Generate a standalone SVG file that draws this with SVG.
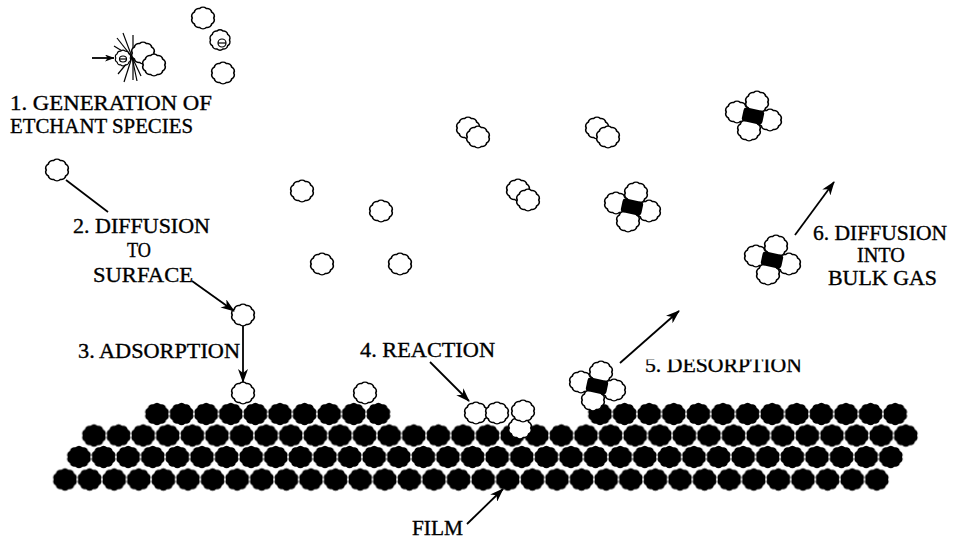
<svg xmlns="http://www.w3.org/2000/svg" width="954" height="541" viewBox="0 0 954 541">
  <style>
    .lbl{font-family:"Liberation Serif","DejaVu Serif","Times New Roman",serif;font-size:21px;fill:#000;stroke:#000;stroke-width:0.35}
    .big{font-size:22px}
    .open{fill:#fff;stroke:#000;stroke-width:1.6}
    .solid{fill:#000;stroke:none}
    .wire{stroke:#000;stroke-width:1.8;fill:none}
    .ray{stroke:#000;stroke-width:1.2;fill:none}
  </style>
  <defs>
    <!-- scalloped atom outline, radius ~10.5 -->
    <path id="b" d="M10,0 A4.5,4.5 0 0 1 8.09,5.88 A4.5,4.5 0 0 1 3.09,9.51 A4.5,4.5 0 0 1 -3.09,9.51 A4.5,4.5 0 0 1 -8.09,5.88 A4.5,4.5 0 0 1 -10,0 A4.5,4.5 0 0 1 -8.09,-5.88 A4.5,4.5 0 0 1 -3.09,-9.51 A4.5,4.5 0 0 1 3.09,-9.51 A4.5,4.5 0 0 1 8.09,-5.88 A4.5,4.5 0 0 1 10,0 Z"/>
    <g id="atom"><use href="#b" class="open" transform="scale(1.08,1)"/></g>
    <!-- one film atom per tile -->
    <pattern id="filmRow" width="24.6" height="24" patternUnits="userSpaceOnUse">
      <use href="#b" class="solid" transform="translate(12.3,12) scale(1.13,1.03)"/>
    </pattern>
    <!-- product molecule: four atoms around a dark core -->
    <g id="mol">
      <use href="#atom" x="-16" y="-3"/>
      <use href="#atom" x="17" y="5"/>
      <use href="#atom" x="4" y="-13"/>
      <use href="#atom" x="-4" y="15"/>
      <rect class="solid" x="-10.5" y="-6" width="21" height="14" rx="3" transform="rotate(12 0 1)"/>
    </g>
    <marker id="head" viewBox="0 0 14 10" refX="13" refY="5" markerWidth="14" markerHeight="10" markerUnits="userSpaceOnUse" orient="auto">
      <path d="M0,0 L14,5 L0,10 L4,5 Z" fill="#000"/>
    </marker>
    <marker id="headSmall" viewBox="0 0 14 10" refX="13" refY="5" markerWidth="10" markerHeight="7" markerUnits="userSpaceOnUse" orient="auto">
      <path d="M0,0 L14,5 L0,10 L4,5 Z" fill="#000"/>
    </marker>
    <clipPath id="cutTop"><rect x="600" y="359.5" width="260" height="30"/></clipPath>
  </defs>

  <!-- film: four staggered rows of atoms -->
  <g id="film">
    <rect fill="url(#filmRow)" transform="translate(144.7,402)" width="246" height="24"/>
    <rect fill="url(#filmRow)" transform="translate(587.7,402)" width="319.8" height="24"/>
    <rect fill="url(#filmRow)" transform="translate(81.7,423.5)" width="836.4" height="24"/>
    <rect fill="url(#filmRow)" transform="translate(66.7,445)" width="836.4" height="24"/>
    <rect fill="url(#filmRow)" transform="translate(52.7,467.5)" width="836.4" height="24"/>
    <text class="lbl" x="412" y="535" textLength="51" lengthAdjust="spacingAndGlyphs">FILM</text>
  </g>

  <!-- 1. generation of etchant species -->
  <g id="generation">
    <g class="ray">
      <line x1="133" y1="35" x2="133" y2="80"/>
      <line x1="132" y1="57" x2="117" y2="38"/>
      <line x1="132" y1="57" x2="123" y2="33"/>
      <line x1="132" y1="57" x2="114" y2="46"/>
      <line x1="132" y1="57" x2="118" y2="74"/>
      <line x1="132" y1="57" x2="124" y2="82"/>
      <line x1="132" y1="57" x2="137" y2="81"/>
      <line x1="132" y1="57" x2="141" y2="76"/>
    </g>
    <use href="#b" class="open" transform="translate(123,58) scale(0.72)"/>
    <ellipse cx="123" cy="59" rx="3.5" ry="3" class="ray"/>
    <line x1="119.5" y1="59" x2="126.5" y2="59" class="ray"/>
    <use href="#atom" x="143" y="53"/>
    <use href="#atom" x="154" y="65"/>
    <use href="#atom" x="203" y="18"/>
    <use href="#b" class="open" transform="translate(220,40) scale(0.95)"/>
    <circle cx="222" cy="43" r="4" class="ray"/>
    <line x1="218" y1="43" x2="226" y2="43" class="ray"/>
    <use href="#atom" x="223" y="73"/>
    <text class="lbl big" x="10" y="110" textLength="202" lengthAdjust="spacingAndGlyphs">1. GENERATION OF</text>
    <text class="lbl big" x="10" y="133" textLength="183" lengthAdjust="spacingAndGlyphs">ETCHANT SPECIES</text>
  </g>

  <!-- 2. diffusion to surface -->
  <g id="diffusion">
    <use href="#atom" x="57" y="170"/>
    <text class="lbl" x="73" y="233" textLength="137" lengthAdjust="spacingAndGlyphs">2. DIFFUSION</text>
    <text class="lbl" x="127" y="257" textLength="24" lengthAdjust="spacingAndGlyphs">TO</text>
    <text class="lbl" x="93" y="282" textLength="100" lengthAdjust="spacingAndGlyphs">SURFACE</text>
  </g>

  <!-- 3. adsorption -->
  <g id="adsorption">
    <use href="#atom" x="243" y="315"/>
    <use href="#atom" x="243" y="393"/>
    <use href="#atom" x="365" y="393"/>
    <text class="lbl" x="78" y="358" textLength="162" lengthAdjust="spacingAndGlyphs">3. ADSORPTION</text>
  </g>

  <!-- free radicals and pairs in the gas -->
  <g id="gas">
    <use href="#atom" x="302" y="191"/>
    <use href="#atom" x="381" y="211"/>
    <use href="#atom" x="322" y="264"/>
    <use href="#atom" x="400" y="264"/>
    <use href="#atom" x="468" y="128"/>
    <use href="#atom" x="478" y="137"/>
    <use href="#atom" x="518" y="190"/>
    <use href="#atom" x="528" y="200"/>
    <use href="#atom" x="597" y="128"/>
    <use href="#atom" x="608" y="137"/>
  </g>

  <!-- 4. reaction on the surface -->
  <g id="reaction">
    <use href="#atom" x="476" y="413"/>
    <use href="#atom" x="497" y="413"/>
    <use href="#atom" x="520" y="428"/>
    <use href="#atom" x="523" y="411"/>
    <text class="lbl" x="360" y="357" textLength="135" lengthAdjust="spacingAndGlyphs">4. REACTION</text>
  </g>

  <!-- 5. desorption -->
  <g id="desorption">
    <use href="#mol" x="597" y="385"/>
    <text class="lbl" x="645" y="372" textLength="157" lengthAdjust="spacingAndGlyphs" clip-path="url(#cutTop)">5. DESORPTION</text>
  </g>

  <!-- 6. diffusion into bulk gas -->
  <g id="bulk">
    <use href="#mol" x="632" y="206"/>
    <use href="#mol" x="753" y="115"/>
    <use href="#mol" x="772" y="259"/>
    <text class="lbl" x="813" y="240" textLength="134" lengthAdjust="spacingAndGlyphs">6. DIFFUSION</text>
    <text class="lbl" x="857" y="262" textLength="48" lengthAdjust="spacingAndGlyphs">INTO</text>
    <text class="lbl" x="828" y="285" textLength="109" lengthAdjust="spacingAndGlyphs">BULK GAS</text>
  </g>

  <!-- connectors -->
  <g id="connectors" class="wire">
    <line x1="92" y1="58" x2="114" y2="58" marker-end="url(#headSmall)"/>
    <line x1="66" y1="180" x2="108" y2="212"/>
    <line x1="192" y1="281" x2="234" y2="311" marker-end="url(#head)"/>
    <line x1="243" y1="326" x2="243" y2="382" marker-end="url(#head)"/>
    <line x1="430" y1="362" x2="469" y2="401" marker-end="url(#head)"/>
    <line x1="620" y1="363" x2="679" y2="311" marker-end="url(#head)"/>
    <line x1="795" y1="235" x2="834" y2="182" marker-end="url(#head)"/>
    <line x1="467" y1="524" x2="503" y2="489" marker-end="url(#head)"/>
  </g>
</svg>
